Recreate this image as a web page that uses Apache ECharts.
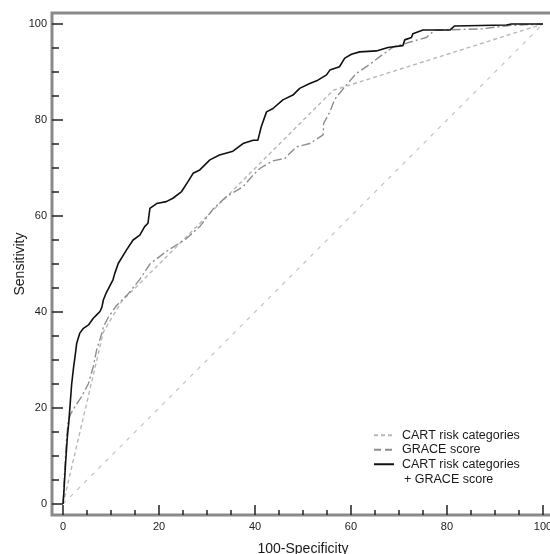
<!DOCTYPE html>
<html>
<head>
<meta charset="utf-8">
<script src="https://cdn.jsdelivr.net/npm/echarts@6/dist/echarts.min.js"></script>
<style>
  html, body { margin: 0; padding: 0; background: #ffffff; }
  #chart { width: 550px; height: 554px; }
</style>
</head>
<body>
<div id="chart"></div>
<script>
// ROC curves: [100 - specificity, sensitivity] pairs (percent)
var diagonalRef = [[0, 0], [100, 100]];

var cartRisk = [[0, 0], [8.4, 35.8], [12.2, 42.2], [56.3, 86.2], [100, 100]];

var graceScore = [
  [0, 0], [0.3, 6], [0.7, 13], [1.05, 17], [1.5, 18.6], [2.5, 20.3], [3.9, 22.4],
  [5.3, 25.1], [6.3, 28.6], [7, 32.1], [8.1, 35.6], [8.4, 36.9], [9.5, 39],
  [11.1, 41.3], [13.5, 43.7], [16, 46.8], [18.1, 50], [21.5, 52.6], [25.7, 55.3],
  [28.5, 57.8], [31.3, 61.5], [34, 64], [37.5, 66.1], [39.6, 68.5], [41, 69.9],
  [43.75, 71.5], [46.2, 72], [48.6, 74.4], [51.4, 75.1], [54.2, 76.9], [54.3, 79.3],
  [55.6, 81.7], [56.6, 84.3], [58.7, 86.9], [61, 89.6], [63.9, 91.6], [66, 93.2],
  [68.75, 95.2], [72.2, 96.2], [75.7, 97.2], [77.4, 98.7], [80.6, 98.8],
  [87.3, 99], [93, 99.7], [100, 100]
];

var cartPlusGrace = [
  [0, 0], [0.15, 2], [0.5, 8], [0.9, 14], [1.2, 17], [1.5, 21], [1.8, 25],
  [2.2, 28.5], [2.5, 30.7], [2.85, 33.5], [3.5, 35.6], [4.25, 36.6], [5.3, 37.3],
  [6.3, 38.7], [7, 39.4], [7.7, 40.1], [8.1, 41], [8.4, 42.5], [9, 44],
  [10.4, 46.7], [10.8, 48.1], [11.5, 50.1], [13.2, 52.9], [14.6, 55], [16, 56],
  [17, 57.8], [17.7, 58.5], [18.1, 61.6], [19.5, 62.6], [21.5, 63], [22.9, 63.7],
  [24.7, 65.1], [26, 67.1], [27.1, 68.9], [28.5, 69.6], [30.6, 71.7], [32.6, 72.7],
  [35.4, 73.5], [37.5, 75.1], [39.6, 75.8], [40.6, 75.8], [41.3, 78.6], [42.4, 81.7],
  [43.75, 82.4], [45.8, 84.2], [47.9, 85.2], [49.3, 86.6], [51.4, 87.6], [53.1, 88.3],
  [54.9, 89.4], [55.6, 90.4], [57.6, 91.1], [58.7, 92.9], [60.1, 93.7], [61.8, 94.2],
  [65.3, 94.4], [67.7, 95.1], [70.8, 95.5], [71.2, 96.7], [72.6, 97.2], [72.9, 98],
  [75, 98.75], [80.6, 98.75], [81.6, 99.6], [92.4, 99.8], [93.4, 100], [100, 100]
];

var majorTicks = [0, 20, 40, 60, 80, 100];
var minorTicks = [5, 10, 15, 25, 30, 35, 45, 50, 55, 65, 70, 75, 85, 90, 95];

var seriesNames = ['CART risk categories', 'GRACE score', 'CART risk categories\n+ GRACE score'];
var axisNames = { x: '100-Specificity', y: 'Sensitivity' };

var FONT = '"Liberation Sans", Arial, Helvetica, sans-serif';
var AXIS_MIN = -2.3, AXIS_MAX = 102.3;

// legend geometry (pixels)
var LEGEND_LEFT = 373, LEGEND_TOP = 428, LEGEND_ROW = 14.5, LEGEND_ICON_W = 20;

function axisPair(kind) {
  var isX = kind === 'x';
  var main = {
    type: 'value',
    min: AXIS_MIN,
    max: AXIS_MAX,
    position: isX ? 'bottom' : 'left',
    name: isX ? axisNames.x : axisNames.y,
    nameLocation: 'middle',
    nameGap: isX ? 27 : 25,
    nameMoveOverlap: false,
    nameTextStyle: { fontFamily: FONT, fontSize: 14, color: '#1a1a1a' },
    axisLine: { show: false, onZero: false },
    splitLine: { show: false },
    axisTick: {
      show: true, inside: true, length: isX ? 10 : 11,
      customValues: majorTicks,
      lineStyle: { color: '#222', width: 1.5 }
    },
    axisLabel: {
      show: true, customValues: majorTicks, margin: isX ? 6 : 5,
      fontFamily: FONT, fontSize: 11, color: '#222'
    }
  };
  var minor = {
    type: 'value',
    min: AXIS_MIN,
    max: AXIS_MAX,
    position: isX ? 'bottom' : 'left',
    axisLine: { show: false, onZero: false },
    splitLine: { show: false },
    axisLabel: { show: false },
    axisTick: {
      show: true, inside: true, length: isX ? 5 : 7,
      customValues: minorTicks,
      lineStyle: { color: '#222', width: 1.5 }
    }
  };
  return [main, minor];
}

// the combined-model legend entry wraps onto a second, indented line
var comboLines = seriesNames[2].split('\n');

var chart = echarts.init(document.getElementById('chart'), null, { renderer: 'canvas' });

chart.setOption({
  backgroundColor: '#ffffff',
  animation: false,
  textStyle: { fontFamily: FONT },
  grid: {
    show: true,
    left: 52, top: 13, right: -4, bottom: 39,
    outerBoundsMode: 'none',
    containLabel: false,
    borderColor: '#8a8a8a',
    borderWidth: 3,
    backgroundColor: 'transparent'
  },
  xAxis: axisPair('x'),
  yAxis: axisPair('y'),
  legend: {
    orient: 'vertical',
    left: LEGEND_LEFT,
    top: LEGEND_TOP,
    padding: 0,
    itemGap: 0,
    itemWidth: LEGEND_ICON_W,
    itemHeight: 14,
    itemStyle: { opacity: 0 },
    formatter: function (name) { return name.split('\n')[0]; },
    textStyle: { fontFamily: FONT, fontSize: 12.5, lineHeight: LEGEND_ROW, color: '#1a1a1a', padding: [0, 0, 0, 3] },
    data: [
      { name: seriesNames[0] },
      { name: seriesNames[1], lineStyle: { type: [7, 4] } },
      { name: seriesNames[2], lineStyle: { width: 2 } }
    ]
  },
  graphic: [{
    type: 'text',
    left: LEGEND_LEFT + LEGEND_ICON_W + 11,
    top: LEGEND_TOP + LEGEND_ROW * 3 + 0.5,
    silent: true,
    style: {
      text: comboLines[1],
      font: '12.5px ' + FONT,
      lineHeight: LEGEND_ROW,
      fill: '#1a1a1a'
    }
  }],
  series: [
    {
      name: 'reference',
      type: 'line',
      data: diagonalRef,
      symbol: 'none',
      silent: true,
      lineStyle: { color: '#c4c4c4', width: 1.2, type: [4, 6] },
      z: 1
    },
    {
      name: seriesNames[0],
      type: 'line',
      data: cartRisk,
      symbol: 'none',
      lineStyle: { color: '#b8b8b8', width: 1.4, type: [4, 3] },
      itemStyle: { color: '#b8b8b8' },
      z: 2
    },
    {
      name: seriesNames[1],
      type: 'line',
      data: graceScore,
      symbol: 'none',
      lineStyle: { color: '#8e8e8e', width: 1.4, type: [9, 3, 2, 3] },
      itemStyle: { color: '#8e8e8e' },
      z: 3
    },
    {
      name: seriesNames[2],
      type: 'line',
      data: cartPlusGrace,
      symbol: 'none',
      lineStyle: { color: '#111111', width: 1.6 },
      itemStyle: { color: '#111111' },
      z: 4
    }
  ]
});
</script>
</body>
</html>
